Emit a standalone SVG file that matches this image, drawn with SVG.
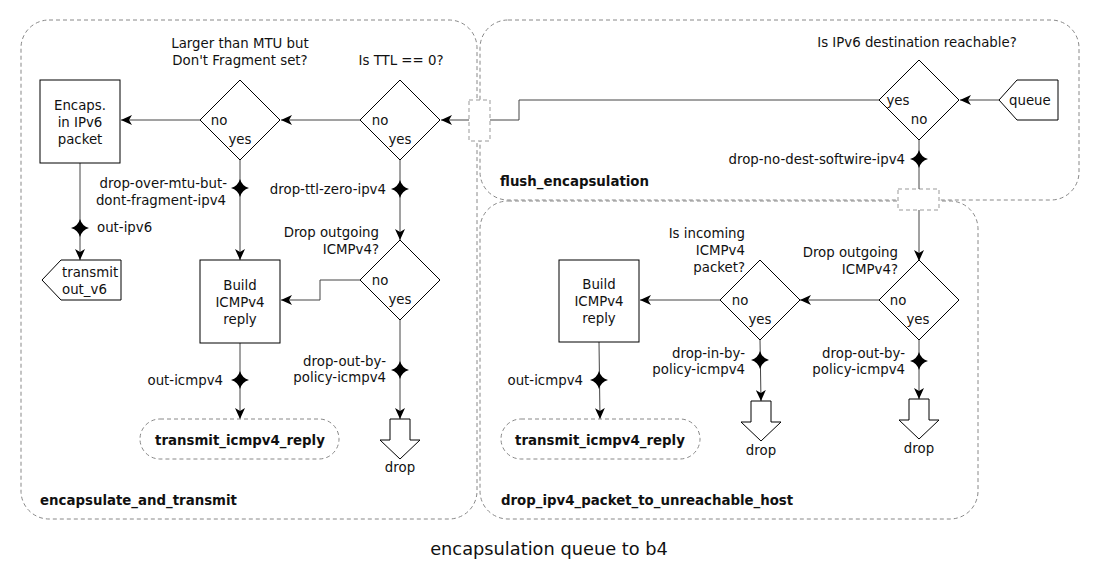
<svg xmlns="http://www.w3.org/2000/svg" xmlns:xlink="http://www.w3.org/1999/xlink" width="1100" height="580" viewBox="0 0 1100 580">
<style>
text { font-family: "DejaVu Sans", "Noto Sans", sans-serif; font-size: 13.33px; fill: #111; }
.b { font-weight: bold; }
.m { text-anchor: middle; }
.e { text-anchor: end; }
.cl { fill: none; stroke: #888; stroke-width: 1; stroke-dasharray: 4,3; }
.port { fill: #fff; stroke: #999; stroke-width: 1; stroke-dasharray: 4,3; }
.nd { fill: #fff; stroke: #000; stroke-width: 1; }
.ed { fill: none; stroke: #444; stroke-width: 1; }
.arr { marker-end: url(#ah); }
.cap { font-size: 17.8px; }
</style>
<defs>
<marker id="ah" markerWidth="12" markerHeight="10" refX="11" refY="5" orient="auto" markerUnits="userSpaceOnUse">
<path d="M0,0 L11,5 L0,10 L3,5 Z" fill="#000"/>
</marker>
<path id="star" d="M0,-9 Q2,-2 9,0 Q2,2 0,9 Q-2,2 -9,0 Q-2,-2 0,-9 Z" fill="#000"/>
</defs>
<rect width="1100" height="580" fill="#fff"/>

<g id="clusters">
<g id="encapsulate_and_transmit">
<rect class="cl" x="21" y="20" width="456" height="499" rx="28" ry="28"/>
<text class="b" x="40" y="505">encapsulate_and_transmit</text>
</g>
<g id="flush_encapsulation">
<rect class="cl" x="480" y="20" width="599" height="180" rx="28" ry="28"/>
<text class="b" x="500" y="186">flush_encapsulation</text>
</g>
<g id="drop_ipv4_packet_to_unreachable_host">
<rect class="cl" x="480" y="201" width="498" height="318" rx="28" ry="28"/>
<text class="b" x="501" y="505">drop_ipv4_packet_to_unreachable_host</text>
</g>
</g>

<g id="ports">
<rect class="port" x="469" y="100" width="21" height="41"/>
<rect class="port" x="898" y="189" width="41" height="21"/>
</g>

<g id="connectors">
<path class="ed arr" d="M999,100 L960,100"/>
<path class="ed" d="M879,100 L519,100 L519,120 L490,120"/>
<path class="ed arr" d="M469,120 L441,120"/>
<path class="ed" d="M919,140 L919,189"/>
<path class="ed arr" d="M919,210 L919,261"/>
<path class="ed arr" d="M360,120 L281,120"/>
<path class="ed arr" d="M200,120 L121,120"/>
<path class="ed arr" d="M400,160 L400,240"/>
<path class="ed arr" d="M240,160 L240,260"/>
<path class="ed arr" d="M80,163 L80,260"/>
<path class="ed arr" d="M360,280 L320,280 L320,300 L281,300"/>
<path class="ed arr" d="M400,320 L400,419"/>
<path class="ed arr" d="M240,343 L240,419"/>
<path class="ed arr" d="M879,300 L800,300"/>
<path class="ed arr" d="M720,300 L640,300"/>
<path class="ed arr" d="M919,340 L919,399"/>
<path class="ed arr" d="M760,340 L761,401"/>
<path class="ed arr" d="M599,342 L600,419"/>
<use xlink:href="#star" x="919" y="159"/>
<use xlink:href="#star" x="400" y="189"/>
<use xlink:href="#star" x="240" y="188"/>
<use xlink:href="#star" x="80" y="228"/>
<use xlink:href="#star" x="400" y="370"/>
<use xlink:href="#star" x="240" y="380"/>
<use xlink:href="#star" x="919" y="361"/>
<use xlink:href="#star" x="760" y="360"/>
<use xlink:href="#star" x="599" y="380"/>
<text class="e" x="905" y="164">drop-no-dest-softwire-ipv4</text>
<text class="e" x="386" y="194">drop-ttl-zero-ipv4</text>
<text class="e" x="227" y="188">drop-over-mtu-but-</text>
<text class="e" x="226" y="205">dont-fragment-ipv4</text>
<text x="97" y="232">out-ipv6</text>
<text class="e" x="386" y="366">drop-out-by-</text>
<text class="e" x="386" y="382">policy-icmpv4</text>
<text class="e" x="223" y="385">out-icmpv4</text>
<text class="e" x="905" y="358">drop-out-by-</text>
<text class="e" x="905" y="374">policy-icmpv4</text>
<text class="e" x="745" y="358">drop-in-by-</text>
<text class="e" x="745" y="374">policy-icmpv4</text>
<text class="e" x="583" y="385">out-icmpv4</text>
</g>

<g id="queue">
<path class="nd" d="M999,100 L1017,80 L1058,80 L1058,120 L1017,120 Z"/>
<text x="1009" y="105">queue</text>
</g>

<g id="ipv6_reachable">
<path class="nd" d="M919,60 L959,100 L919,140 L879,100 Z"/>
<text class="m" x="917" y="47">Is IPv6 destination reachable?</text>
<text class="m" x="898" y="105">yes</text>
<text class="m" x="919" y="124">no</text>
</g>

<g id="ttl_zero">
<path class="nd" d="M400,80 L440,120 L400,160 L360,120 Z"/>
<text class="m" x="401" y="65">Is TTL == 0?</text>
<text class="m" x="380" y="125">no</text>
<text class="m" x="400" y="144">yes</text>
</g>

<g id="over_mtu">
<path class="nd" d="M240,80 L280,120 L240,160 L200,120 Z"/>
<text class="m" x="240" y="48">Larger than MTU but</text>
<text class="m" x="240" y="65">Don't Fragment set?</text>
<text class="m" x="219" y="125">no</text>
<text class="m" x="240" y="144">yes</text>
</g>

<g id="encaps">
<rect class="nd" x="40" y="80" width="80" height="83"/>
<text class="m" x="80" y="110">Encaps.</text>
<text class="m" x="80" y="127">in IPv6</text>
<text class="m" x="80" y="144">packet</text>
</g>

<g id="transmit_out_v6">
<path class="nd" d="M42,280 L61,260 L121,260 L121,300 L61,300 Z"/>
<text x="62" y="277">transmit</text>
<text x="62" y="294">out_v6</text>
</g>

<g id="drop_outgoing_left">
<path class="nd" d="M400,240 L440,280 L400,320 L360,280 Z"/>
<text class="e" x="379" y="237">Drop outgoing</text>
<text class="e" x="379" y="254">ICMPv4?</text>
<text class="m" x="380" y="285">no</text>
<text class="m" x="400" y="304">yes</text>
</g>

<g id="build_icmp_left">
<rect class="nd" x="200" y="260" width="80" height="83"/>
<text class="m" x="240" y="290">Build</text>
<text class="m" x="240" y="307">ICMPv4</text>
<text class="m" x="240" y="324">reply</text>
</g>

<g id="transmit_icmpv4_reply_left">
<rect class="cl" x="140" y="419" width="199" height="40" rx="20" ry="20"/>
<text class="m b" x="240" y="445">transmit_icmpv4_reply</text>
</g>

<g id="drop_left">
<path class="nd" d="M390,419 L410,419 L410,440 L420,440 L400,459 L380,440 L390,440 Z"/>
<text class="m" x="400" y="472">drop</text>
</g>

<g id="drop_outgoing_right">
<path class="nd" d="M919,260 L959,300 L919,340 L879,300 Z"/>
<text class="e" x="898" y="257">Drop outgoing</text>
<text class="e" x="898" y="274">ICMPv4?</text>
<text class="m" x="898" y="305">no</text>
<text class="m" x="918" y="324">yes</text>
</g>

<g id="incoming_icmp">
<path class="nd" d="M760,260 L800,300 L760,340 L720,300 Z"/>
<text class="e" x="745" y="238">Is incoming</text>
<text class="e" x="745" y="255">ICMPv4</text>
<text class="e" x="745" y="272">packet?</text>
<text class="m" x="740" y="305">no</text>
<text class="m" x="760" y="324">yes</text>
</g>

<g id="build_icmp_right">
<rect class="nd" x="559" y="260" width="80" height="82"/>
<text class="m" x="599" y="289">Build</text>
<text class="m" x="599" y="306">ICMPv4</text>
<text class="m" x="599" y="323">reply</text>
</g>

<g id="transmit_icmpv4_reply_right">
<rect class="cl" x="501" y="419" width="199" height="40" rx="20" ry="20"/>
<text class="m b" x="600" y="445">transmit_icmpv4_reply</text>
</g>

<g id="drop_mid">
<path class="nd" d="M751,401 L771,401 L771,422 L781,422 L761,441 L741,422 L751,422 Z"/>
<text class="m" x="761" y="455">drop</text>
</g>

<g id="drop_right">
<path class="nd" d="M909,399 L929,399 L929,420 L939,420 L919,439 L899,420 L909,420 Z"/>
<text class="m" x="919" y="453">drop</text>
</g>

<text class="m cap" x="549" y="555">encapsulation queue to b4</text>
</svg>
